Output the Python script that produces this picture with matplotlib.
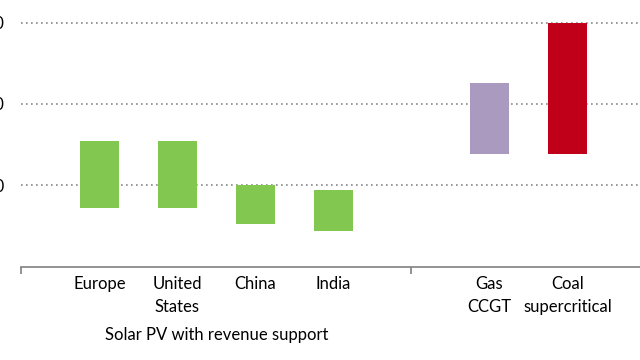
import matplotlib as mp
mp.use("Agg")
import matplotlib.pyplot as plt
import matplotlib.transforms as mtrans

plt.rcParams["font.family"] = ["Lato", "DejaVu Sans"]

# cost ranges (low, high)
cats = ["Europe", "United\nStates", "China", "India", "Gas\nCCGT", "Coal\nsupercritical"]
xpos = [0, 1, 2, 3, 5, 6]
low = [36, 36, 26, 22, 69, 69]
high = [77, 77, 50, 47, 113, 150]
cols = ["#82c850", "#82c850", "#82c850", "#82c850", "#ab9ac0", "#c00018"]
yticks = [50, 100, 150]
group_label = "Solar PV with revenue support"

fig = plt.figure(figsize=(6.4, 3.6), dpi=100)
ax = fig.add_axes([0.0333, 0.2597, 0.9667, 0.7228])

heights = [h - l for h, l in zip(high, low)]
ax.bar(xpos, heights, bottom=low, width=0.5, color=cols, zorder=3)

ax.set_xlim(-1, 6.93)
ax.set_ylim(0, 160)
ax.set_yticks(yticks)
ax.yaxis.grid(True, ls=(0, (1, 2)), color="#888888", lw=1.2)
ax.set_axisbelow(True)
ax.tick_params(axis="y", length=0, pad=12.2, labelsize=12)

for s in ["top", "right", "left"]:
    ax.spines[s].set_visible(False)
ax.spines["bottom"].set_color("#808080")
ax.spines["bottom"].set_linewidth(1.2)

ax.set_xticks([-1, 4])
ax.set_xticklabels(["", ""])
ax.tick_params(axis="x", which="major", length=5, color="#808080", width=1.2)
ax.set_xticks(xpos, minor=True)
ax.set_xticklabels(cats, minor=True, fontsize=12)
ax.tick_params(axis="x", which="minor", length=0, pad=7)
for t in ax.get_xticklabels(minor=True):
    t.set_linespacing(1.55)

tr = mtrans.blended_transform_factory(ax.transData, ax.transAxes)
ax.text(1.5, -0.265, group_label, transform=tr, ha="center", va="center", fontsize=12)

fig.savefig("out.png", dpi=100)
